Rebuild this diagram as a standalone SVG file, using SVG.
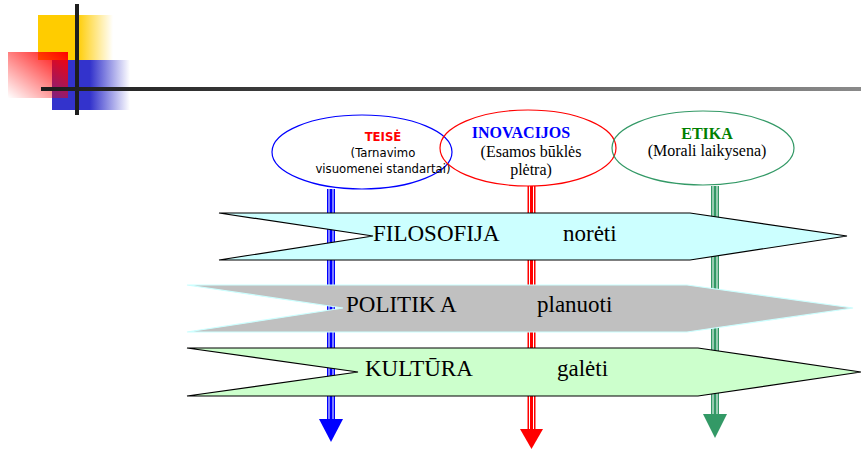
<svg xmlns="http://www.w3.org/2000/svg" width="861" height="450" viewBox="0 0 861 450">
<defs>
<linearGradient id="gY" x1="0" y1="0" x2="1" y2="0"><stop offset="0" stop-color="#FFCC00"/><stop offset="1" stop-color="#FFCC00" stop-opacity="0"/></linearGradient>
<linearGradient id="gB" x1="0" y1="0" x2="1" y2="0"><stop offset="0" stop-color="#3333CC"/><stop offset="1" stop-color="#3333CC" stop-opacity="0"/></linearGradient>
<linearGradient id="gR" x1="1" y1="0" x2="0" y2="1"><stop offset="0" stop-color="#FF0000"/><stop offset="1" stop-color="#FF0000" stop-opacity="0"/></linearGradient>
<linearGradient id="gL" x1="0" y1="0" x2="1" y2="0"><stop offset="0" stop-color="#1c1c1c"/><stop offset="1" stop-color="#8a8a8a"/></linearGradient>
</defs>
<style>
.sans{font-family:"DejaVu Sans",Verdana,sans-serif;font-size:11.7px;fill:#000;text-anchor:middle}
.ser{font-family:"Liberation Serif","Times New Roman",serif;font-size:16px;fill:#000;text-anchor:middle}
.band{font-family:"Liberation Serif","Times New Roman",serif;font-size:23px;fill:#000}
.wl{stroke:#fff;stroke-width:1}
</style>
<g id="decor">
<rect x="38" y="15" width="40" height="45" fill="#FFCC00"/>
<rect x="77" y="15" width="36" height="45" fill="url(#gY)"/>
<rect x="52" y="60" width="38" height="50" fill="#3333CC"/>
<rect x="90" y="60" width="40" height="50" fill="url(#gB)"/>
<rect x="8" y="52" width="60" height="46" fill="url(#gR)"/>
<rect x="75" y="4" width="4" height="111" fill="#1e1e1e"/>
<rect x="41" y="87" width="820" height="4" fill="url(#gL)"/>
</g>
<g id="connectors">
<g id="arrow-blue">
<line x1="331" y1="189" x2="331" y2="420" stroke="#0000FF" stroke-width="8"/>
<line x1="329" y1="189" x2="329" y2="420" class="wl"/><line x1="333" y1="189" x2="333" y2="420" class="wl"/>
<polygon points="319,419 343,419 331,442" fill="#0000FF"/>
</g>
<g id="arrow-red">
<line x1="531.5" y1="186" x2="531.5" y2="430" stroke="#FF0000" stroke-width="8"/>
<line x1="529.5" y1="186" x2="529.5" y2="430" class="wl"/><line x1="533.5" y1="186" x2="533.5" y2="430" class="wl"/>
<polygon points="520,429 543,429 531.5,449" fill="#FF0000"/>
</g>
<g id="arrow-green">
<line x1="715" y1="186" x2="715" y2="415" stroke="#339966" stroke-width="8"/>
<line x1="713" y1="186" x2="713" y2="415" class="wl"/><line x1="717" y1="186" x2="717" y2="415" class="wl"/>
<polygon points="703,414 727,414 715,438" fill="#339966"/>
</g>
</g>
<g id="teise">
<ellipse cx="362" cy="152" rx="90" ry="37" fill="none" stroke="#0000FF" stroke-width="1.2"/>
<text x="383" y="141" class="sans" style="font-weight:bold;fill:#FF0000">TEISĖ</text>
<text x="383" y="157" class="sans">(Tarnavimo</text>
<text x="383" y="173" class="sans">visuomenei standartai)</text>
</g>
<g id="inovacijos">
<ellipse cx="528" cy="148" rx="88" ry="38" fill="none" stroke="#FF0000" stroke-width="1.2"/>
<text x="521" y="138" class="ser" style="font-weight:bold;fill:#0000FF">INOVACIJOS</text>
<text x="531" y="157" class="ser">(Esamos būklės</text>
<text x="531" y="175" class="ser">plėtra)</text>
</g>
<g id="etika">
<ellipse cx="703" cy="148" rx="91" ry="37" fill="none" stroke="#339966" stroke-width="1.2"/>
<text x="707" y="139" class="ser" style="font-weight:bold;fill:#008000">ETIKA</text>
<text x="707" y="156" class="ser">(Morali laikysena)</text>
</g>
<g id="filosofija">
<polygon points="219,213 690,213 847,236 690,260 219,260 373,236" fill="#CCFFFF" stroke="#000" stroke-width="1.2"/>
<text x="373" y="241" class="band">FILOSOFIJA</text>
<text x="563" y="241" class="band">norėti</text>
</g>
<g id="politika">
<polygon points="187,285 687,285 853,308 687,332 187,332 343,308" fill="#C0C0C0" stroke="#CCFFFF" stroke-width="1.2"/>
<text x="346" y="312" class="band">POLITIK A</text>
<text x="537" y="312" class="band">planuoti</text>
</g>
<g id="kultura">
<polygon points="187,348 698,348 861,372 698,396 187,396 358,372" fill="#CCFFCC" stroke="#000" stroke-width="1.2"/>
<text x="365" y="376" class="band">KULTŪRA</text>
<text x="557" y="376" class="band">galėti</text>
</g>
</svg>
